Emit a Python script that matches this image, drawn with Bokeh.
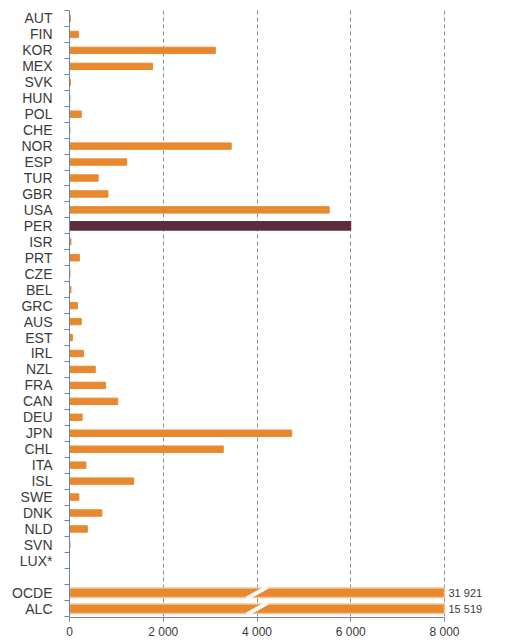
from bokeh.plotting import figure
from bokeh.models import Range1d, FixedTicker, ColumnDataSource
from bokeh.embed import file_html
from bokeh.resources import INLINE
from bokeh.core.properties import value

# ---- data ----
countries = ["AUT", "FIN", "KOR", "MEX", "SVK", "HUN", "POL", "CHE", "NOR", "ESP",
             "TUR", "GBR", "USA", "PER", "ISR", "PRT", "CZE", "BEL", "GRC", "AUS",
             "EST", "IRL", "NZL", "FRA", "CAN", "DEU", "JPN", "CHL", "ITA", "ISL",
             "SWE", "DNK", "NLD", "SVN", "LUX*"]
country_values = [20, 190, 3110, 1770, 20, 10, 250, 10, 3450, 1220,
                  610, 820, 5540, 6000, 30, 210, 10, 30, 170, 250,
                  60, 300, 550, 770, 1030, 270, 4740, 3280, 350, 1370,
                  200, 690, 380, 10, 0]
highlight = "PER"
aggregates = ["OCDE", "ALC"]
aggregate_values = [31921, 15519]
x_ticks = [0, 2000, 4000, 6000, 8000]
x_tick_labels = ["0", "2 000", "4 000", "6 000", "8 000"]
axis_max = 8000
break_at = 4000

# ---- style ----
ORANGE = "#E8882F"
DARK = "#5B2D3C"
AXIS_C = "#6E86A6"
TEXT_C = "#3A3A3A"
FONT = "Liberation Sans"

n = len(countries)
c_pos = list(range(n))
a_pos = [n + 1 + i for i in range(len(aggregates))]

c_src = ColumnDataSource(dict(
    y=[p for p, c in zip(c_pos, countries) if c != highlight],
    right=[v for v, c in zip(country_values, countries) if c != highlight]))
h_src = ColumnDataSource(dict(
    y=[p for p, c in zip(c_pos, countries) if c == highlight],
    right=[v for v, c in zip(country_values, countries) if c == highlight]))
a_src = ColumnDataSource(dict(
    y=a_pos,
    right=[min(v, axis_max) for v in aggregate_values],
    lx=[axis_max] * len(aggregates),
    label=[f"{v:,}".replace(",", " ") for v in aggregate_values],
    bx0=[break_at - 220] * len(aggregates),
    bx1=[break_at + 220] * len(aggregates),
    by0=[p + 0.36 for p in a_pos],
    by1=[p - 0.36 for p in a_pos]))

x_end = axis_max * 429 / 375.0
p = figure(frame_width=429, frame_height=607, output_backend="svg", toolbar_location=None,
           x_range=Range1d(0, x_end), y_range=Range1d(a_pos[-1] + 0.55, -0.5),
           min_border_left=69, min_border_top=10, min_border_right=0, min_border_bottom=0)
p.outline_line_color = None
p.background_fill_color = "white"
p.border_fill_color = "white"

p.hbar(y="y", right="right", left=0, height=0.4, source=c_src, color=ORANGE)
p.hbar(y="y", right="right", left=0, height=0.54, source=h_src, color=DARK)
p.hbar(y="y", right="right", left=0, height=0.6, source=a_src, fill_color=ORANGE,
       line_color="#F4C394", line_width=1.5)
p.segment(x0="bx0", y0="by0", x1="bx1", y1="by1", source=a_src,
          line_color="white", line_width=4)
p.text(x="lx", y="y", text="label", source=a_src, x_offset=4,
       text_baseline="middle", text_align="left", text_font_size="11px",
       text_color=TEXT_C, text_font=value(FONT))

# grid
p.ygrid.visible = False
p.xgrid.ticker = FixedTicker(ticks=x_ticks[1:])
p.xgrid.grid_line_color = "#8C8C8C"
p.xgrid.grid_line_dash = "4 3"
p.xgrid.grid_line_width = 1

# x axis
xa = p.xaxis[0]
xa.ticker = FixedTicker(ticks=x_ticks)
xa.major_label_overrides = dict(zip(x_ticks, x_tick_labels))
xa.bounds = (0, axis_max)
xa.axis_line_color = AXIS_C
xa.major_tick_line_color = AXIS_C
xa.major_tick_out = 4
xa.major_tick_in = 0
xa.minor_tick_line_color = None
xa.major_label_text_font = FONT
xa.major_label_text_font_size = "12px"
xa.major_label_text_color = TEXT_C
xa.major_label_standoff = 3

# y axis
ya = p.yaxis[0]
all_pos = c_pos + a_pos
all_labels = countries + aggregates
boundaries = [i - 0.5 for i in range(a_pos[-1] + 2)]
ya.ticker = FixedTicker(ticks=all_pos, minor_ticks=boundaries)
ya.major_label_overrides = {pos: lab for pos, lab in zip(all_pos, all_labels)}
ya.axis_line_color = AXIS_C
ya.major_tick_line_color = None
ya.major_tick_out = 0
ya.major_tick_in = 0
ya.minor_tick_line_color = AXIS_C
ya.minor_tick_out = 5
ya.minor_tick_in = 0
ya.major_label_standoff = 12
ya.major_label_text_font = FONT
ya.major_label_text_font_size = "14px"
ya.major_label_text_color = TEXT_C

open("out.html", "w").write(file_html(p, INLINE))
